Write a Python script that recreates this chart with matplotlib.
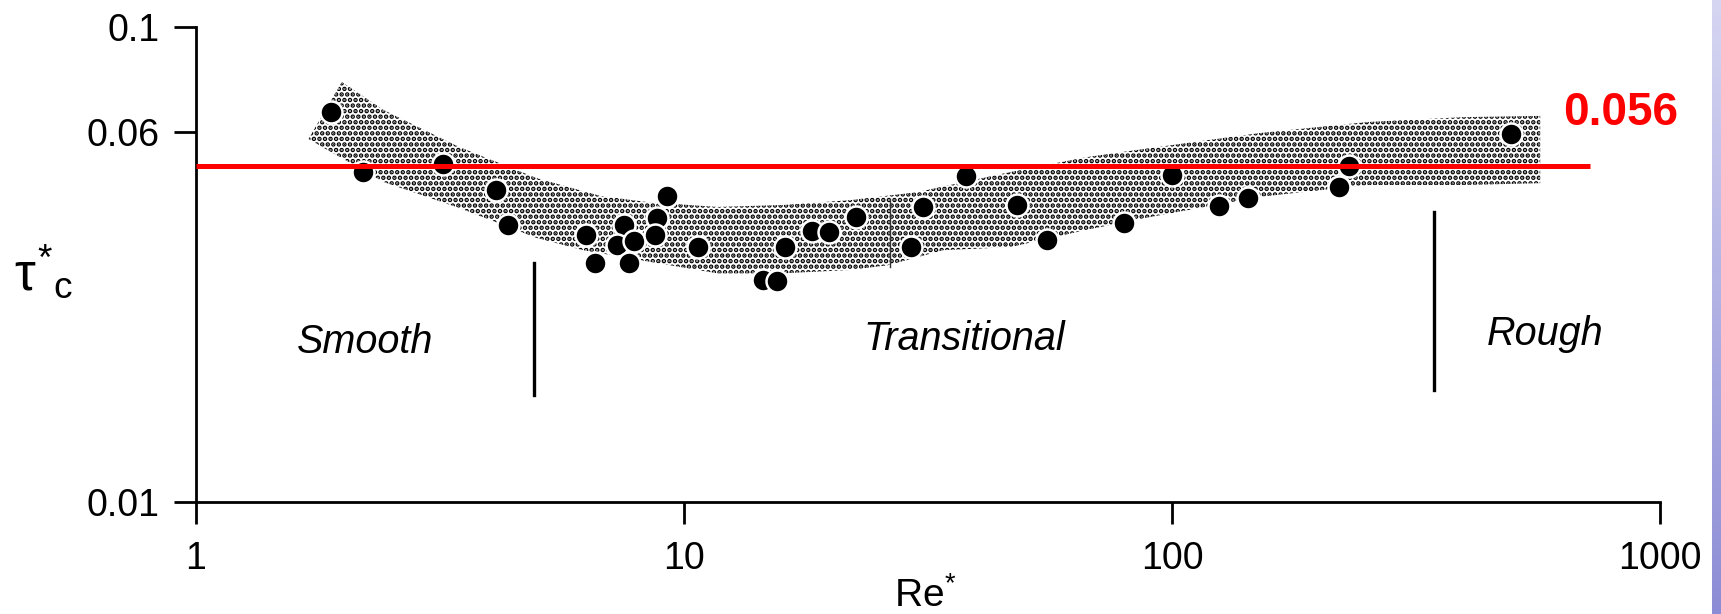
import numpy as np
import matplotlib
matplotlib.use("Agg")
import matplotlib.pyplot as plt

# Shields-type diagram: critical Shields stress vs. particle Reynolds number
re_pts = [1.89, 2.20, 3.20, 4.12, 4.35, 6.30, 6.57, 7.53, 7.28, 7.91, 7.71,
          9.21, 8.81, 8.73, 10.7, 14.5, 15.5, 16.1, 18.3, 19.8, 22.5, 29.2,
          30.9, 37.8, 48.2, 55.5, 79.7, 99.8, 125, 143, 220, 230, 495]
tau_pts = [0.0661, 0.0496, 0.0514, 0.0454, 0.0383, 0.0365, 0.0319, 0.0383,
           0.0347, 0.0354, 0.0319, 0.0440, 0.0397, 0.0365, 0.0345, 0.0293,
           0.0292, 0.0345, 0.0372, 0.0371, 0.0398, 0.0345, 0.0417, 0.0486,
           0.0423, 0.0356, 0.0387, 0.0488, 0.0420, 0.0437, 0.0460, 0.0510,
           0.0594]

# stippled envelope
band_re_up = [1.99, 2.42, 3.46, 4.98, 6.73, 8.40, 11.7, 16.0, 21.9, 30.0,
              46.6, 66.7, 90.1, 151, 252, 395, 568]
band_tau_up = [0.0766, 0.0669, 0.0559, 0.0481, 0.0441, 0.0428, 0.0418,
               0.0422, 0.0432, 0.0449, 0.0495, 0.0532, 0.0556, 0.0598,
               0.0631, 0.0646, 0.0650]
band_re_lo = [1.70, 2.42, 3.46, 4.98, 6.21, 8.13, 11.7, 16.0, 21.9, 26.1,
              34.0, 46.6, 66.7, 90.1, 151, 252, 395, 568]
band_tau_lo = [0.0581, 0.0472, 0.0416, 0.0360, 0.0339, 0.0323, 0.0303,
               0.0303, 0.0308, 0.0315, 0.0339, 0.0344, 0.0374, 0.0398,
               0.0439, 0.0465, 0.0465, 0.0469]

crit_value = 0.0510      # where the red line sits in the picture
crit_label = "0.056"
crit_re_end = 719

# regime boundaries (x, ymin, ymax)
smooth_edge = (4.93, 0.0168, 0.0319)
rough_edge = (344, 0.0172, 0.0408)
regions = [("Smooth", 2.22, 0.0206), ("Transitional", 37.6, 0.0209),
           ("Rough", 581, 0.0214)]

x_ticks = [1, 10, 100, 1000]
y_ticks = [0.01, 0.06, 0.1]
y_ticklabels = ["0.01", "0.06", "0.1"]

plt.rcParams["font.family"] = ["Liberation Sans", "DejaVu Sans"]
plt.rcParams["mathtext.fontset"] = "custom"
plt.rcParams["mathtext.rm"] = "Liberation Sans"
plt.rcParams["mathtext.it"] = "Liberation Sans"
plt.rcParams["hatch.color"] = "black"
plt.rcParams["hatch.linewidth"] = 2.3

fig = plt.figure(figsize=(17.21, 6.14), dpi=100)
ax = fig.add_axes([0.1139, 0.1824, 0.8507, 0.7736])
ax.set_xscale("log")
ax.set_yscale("log")

poly_x = np.concatenate([band_re_up, band_re_lo[::-1]])
poly_y = np.concatenate([band_tau_up, band_tau_lo[::-1]])
ax.fill(poly_x, poly_y, facecolor="white", edgecolor="black", hatch="...",
        linewidth=0, zorder=1)
# paper crease through the band
ax.plot([26.4, 26.4], [0.0434, 0.0312], color="#333333", lw=1.0, zorder=2)

ax.scatter(re_pts, tau_pts, s=250, c="black", edgecolors="white",
           linewidths=1.8, zorder=3)

for xv, y0, y1 in (smooth_edge, rough_edge):
    ax.plot([xv, xv], [y0, y1], color="black", lw=2.4, zorder=2)

for name, xv, yv in regions:
    ax.text(xv, yv, name, fontsize=28.5, style="italic", ha="center",
            va="baseline")

ax.plot([1, crit_re_end], [crit_value, crit_value], color="#ff0000", lw=3.6,
        zorder=5, solid_capstyle="butt", clip_on=False)
ax.text(832, 0.0659, crit_label, color="#ff0000", fontsize=33,
        fontweight="bold", ha="center", va="center")

ax.set_xlim(1, 1000)
ax.set_ylim(0.01, 0.1)
ax.set_xticks(x_ticks)
ax.set_xticklabels([str(v) for v in x_ticks])
ax.set_yticks(y_ticks)
ax.set_yticklabels(y_ticklabels)
ax.minorticks_off()
ax.tick_params(axis="both", direction="out", length=16, width=2,
               labelsize=27)
ax.tick_params(axis="x", pad=12)
ax.tick_params(axis="y", pad=10)
for side in ("top", "right"):
    ax.spines[side].set_visible(False)
for side in ("left", "bottom"):
    ax.spines[side].set_linewidth(2)

fig.text(0.5375, 0.012, r"Re$^{*}$", fontsize=28, ha="center",
         va="baseline")
fig.text(0.008, 0.555, r"$\tau^{*}{}_{\mathrm{c}}$", fontsize=38,
         ha="left", va="center")

# lavender strip at the right edge of the slide
strip = fig.add_axes([1712 / 1721, 0, 9 / 1721, 1])
grad = np.linspace(0, 1, 256).reshape(-1, 1)
strip.imshow(grad, aspect="auto", cmap=matplotlib.colors.LinearSegmentedColormap.from_list(
    "lav", ["#d6d6f2", "#8c8cd6"]), extent=[0, 1, 0, 1], origin="upper")
strip.axis("off")

fig.savefig("out.png", dpi=100)
